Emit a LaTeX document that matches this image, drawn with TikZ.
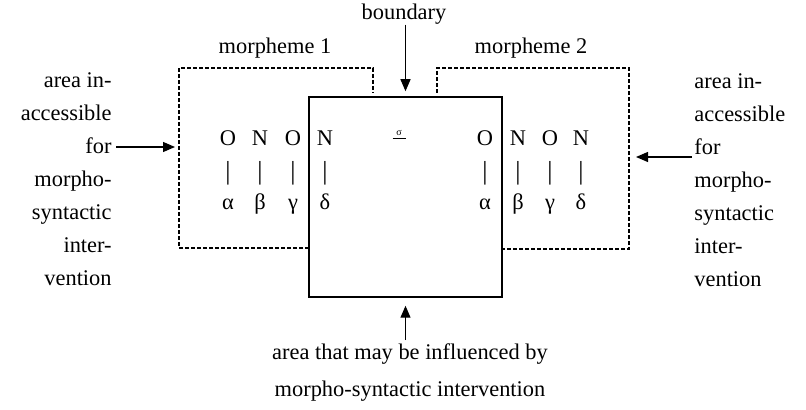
\documentclass[tikz,border=0pt]{standalone}
\usepackage{fontspec}
\setmainfont{Liberation Serif}
\usetikzlibrary{arrows.meta}

\begin{document}
\begin{tikzpicture}[x=0.5pt,y=-0.5pt,
  lbl/.style={font=\fontsize{11.2}{13}\selectfont, inner sep=0pt},
  side/.style={font=\fontsize{11.2}{16.5}\selectfont, inner sep=0pt},
  seg/.style={font=\fontsize{11.2}{13}\selectfont, inner sep=0pt, anchor=base},
  bar/.style={seg, font=\fontsize{13}{13}\selectfont},
  mdash/.style={dash pattern=on 1.8pt off 1.2pt, line width=0.55pt},
  pointer/.style={-{Triangle[length=6pt,width=5pt]}, line width=0.6pt}]
\useasboundingbox (0,0) rectangle (806,410);

% Influenced area (solid)
\node[draw, line width=0.75pt, inner sep=0pt, minimum width=96.5pt, minimum height=100pt] (infl) at (405.5,197) {};

% Morphemes (dashed)
\draw[mdash] (309,248) -- (179,248) -- (179,68) -- (373,68) -- (373,93);
\draw[mdash] (437,93) -- (437,68) -- (629,68) -- (629,249) -- (502,249);
\coordinate (m1w) at (179,147);
\coordinate (m2e) at (629,157);

% Labels
\node[lbl] (bnd) at (404,14) {boundary};
\node[lbl] (mor1) at (275,48) {morpheme 1};
\node[lbl] (mor2) at (531,48) {morpheme 2};

% Segments
\foreach \x/\s/\g [count=\i] in {228/O/α,260/N/β,293/O/γ,325/N/δ} {
  \node[seg] (l\i) at (\x,146) {\s};
  \node[bar] (lb\i) at (\x,180) {|};
  \node[seg] (lg\i) at (\x,210) {\g};
}
\foreach \x/\s/\g [count=\i] in {485/O/α,518/N/β,550/O/γ,581/N/δ} {
  \node[seg] (r\i) at (\x,146) {\s};
  \node[bar] (rb\i) at (\x,180) {|};
  \node[seg] (rg\i) at (\x,210) {\g};
}
\node[inner sep=0pt] (mark) at (399,135) {\underline{\makebox[6.5pt]{\fontsize{5}{5}\selectfont σ}}};

% Side texts
\node[side, align=right, anchor=east] (accL) at (112,179) {area in-\\accessible\\for\\morpho-\\syntactic\\inter-\\vention};
\node[side, align=left, anchor=west] (accR) at (694,180) {area in-\\accessible\\for\\morpho-\\syntactic\\inter-\\vention};
\coordinate (forL) at (116,147);
\coordinate (forR) at (692,157);

\node[inner sep=0pt, align=center, font=\fontsize{11.2}{18.5}\selectfont] (note) at (410,373) {area that may be influenced by\\morpho-syntactic intervention};
\coordinate (up) at (405.5,340);

% Arrows
\draw[pointer, shorten >=2pt] (forL) -- (m1w);
\draw[pointer, shorten >=3.5pt] (forR) -- (m2e);
\draw[pointer, shorten >=2.5pt] (bnd.south -| infl.north) -- (infl.north);
\draw[pointer, shorten >=4pt] (up) -- (infl.south);
\end{tikzpicture}
\end{document}
